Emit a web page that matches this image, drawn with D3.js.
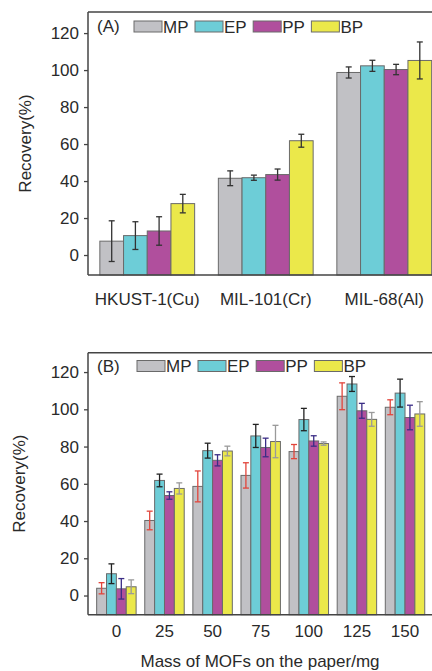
<!DOCTYPE html>
<html>
<head>
<meta charset="utf-8">
<script src="https://cdn.jsdelivr.net/npm/d3@7"></script>
<style>
  body { margin: 0; background: #fff; }
  svg { display: block; font-family: "Liberation Sans", Arial, sans-serif; }
</style>
</head>
<body>
<svg width="432" height="671"></svg>
<script>
// series shared by both panels
var series = ["MP", "EP", "PP", "BP"];
var fills = ["#c1c1c5", "#6dcdd7", "#b04f9d", "#ebe84a"];

// panel A : MOF type
var mofs = ["HKUST-1(Cu)", "MIL-101(Cr)", "MIL-68(Al)"];
var recA = [
  [7.5, 10.5, 13, 27.8],
  [41.5, 41.8, 43.5, 61.8],
  [98.7, 102.3, 100.3, 105.2]
];
var errA = [
  [11, 7.5, 7.7, 5],
  [4, 1.4, 3, 3.5],
  [3, 3, 2.8, 10]
];

// panel B : mass of MOFs
var masses = ["0", "25", "50", "75", "100", "125", "150"];
var recB = [
  [3.9, 11.7, 3.6, 4.7],
  [40.3, 61.8, 53.7, 57.5],
  [58.6, 77.8, 72.6, 77.6],
  [64.5, 85.7, 79.5, 82.7],
  [77.3, 94.5, 83, 81.6],
  [107, 113.6, 99.2, 94.6],
  [101.1, 108.7, 95.6, 97.5]
];
var errB = [
  [3, 5.3, 5.5, 3.7],
  [5, 3.4, 2, 3],
  [8.3, 4, 3, 2.6],
  [6.8, 6.2, 5, 8.7],
  [3.8, 6, 2.8, 0.9],
  [7.2, 4, 4, 3.7],
  [4, 7.5, 6.6, 6.6]
];
var yTicks = [0, 20, 40, 60, 80, 100, 120];

var svg = d3.select("svg");
var ink = "#2a2a2a";

function panel(o) {
  var x = d3.scaleBand().domain(o.cats).range([88, o.right])
    .paddingInner(o.pad).paddingOuter(o.padOut);
  var xs = d3.scaleBand().domain(series).range([0, x.bandwidth()]);
  var y = d3.scaleLinear().domain(o.ydom).range([o.bottom, o.top]);
  var color = d3.scaleOrdinal().domain(series).range(fills);

  var g = svg.append("g");

  var rows = [];
  o.cats.forEach(function (c, i) {
    series.forEach(function (s, j) {
      rows.push({ cat: c, s: s, v: o.vals[i][j], e: o.errs[i][j], j: j });
    });
  });

  g.selectAll(".bar").data(rows).enter().append("rect")
    .attr("x", function (d) { return x(d.cat) + xs(d.s); })
    .attr("y", function (d) { return y(d.v); })
    .attr("width", xs.bandwidth())
    .attr("height", function (d) { return o.bottom - y(d.v); })
    .attr("fill", function (d) { return color(d.s); })
    .attr("stroke", "#6a6a6a").attr("stroke-width", 1);

  var eb = g.selectAll(".err").data(rows).enter().append("g")
    .attr("stroke", function (d) { return o.errColors[d.j]; })
    .attr("stroke-width", 1.3)
    .attr("transform", function (d) {
      return "translate(" + (x(d.cat) + xs(d.s) + xs.bandwidth() / 2) + ",0)";
    });
  eb.append("line").attr("x1", 0).attr("x2", 0)
    .attr("y1", function (d) { return y(d.v + d.e); })
    .attr("y2", function (d) { return y(d.v - d.e); });
  eb.append("line").attr("x1", -o.cap).attr("x2", o.cap)
    .attr("y1", function (d) { return y(d.v + d.e); })
    .attr("y2", function (d) { return y(d.v + d.e); });
  eb.append("line").attr("x1", -o.cap).attr("x2", o.cap)
    .attr("y1", function (d) { return y(d.v - d.e); })
    .attr("y2", function (d) { return y(d.v - d.e); });

  // frame: top line
  g.append("line").attr("x1", 88).attr("x2", 432)
    .attr("y1", o.top).attr("y2", o.top)
    .attr("stroke", "#444").attr("stroke-width", 1.5);

  var ya = g.append("g").attr("transform", "translate(88,0)")
    .call(d3.axisLeft(y).tickValues(yTicks).tickSize(4).tickPadding(5));
  var xa = g.append("g").attr("transform", "translate(0," + o.bottom + ")")
    .call(d3.axisBottom(x).tickSize(0).tickPadding(o.xPad));
  [ya, xa].forEach(function (a) {
    a.select(".domain").attr("stroke", "#444").attr("stroke-width", 1.5);
    a.selectAll(".tick line").attr("stroke", "#444").attr("stroke-width", 1.3);
    a.selectAll("text").attr("font-size", 17).attr("fill", ink)
      .attr("font-family", "Liberation Sans, Arial, sans-serif");
  });
  ya.select(".domain").attr("d", "M0," + o.top + "V" + o.bottom);
  xa.select(".domain").attr("d", "M88,0H432");

  g.append("text")
    .attr("transform", "translate(" + o.ytx + "," + ((o.top + o.bottom) / 2) + ") rotate(-90)")
    .attr("text-anchor", "middle").attr("dy", "0.35em")
    .attr("font-size", 17).attr("fill", ink)
    .text("Recovery(%)");

  // panel letter and legend
  g.append("text").attr("x", 97).attr("y", o.legY + 11)
    .attr("font-size", 17).attr("fill", ink).text(o.letter);
  var lx = o.legX;
  series.forEach(function (s) {
    g.append("rect").attr("x", lx).attr("y", o.legY).attr("width", 28).attr("height", 11)
      .attr("fill", color(s)).attr("stroke", "#6a6a6a").attr("stroke-width", 1);
    var t = g.append("text").attr("x", lx + 29).attr("y", o.legY + 11.5)
      .attr("font-size", 17).attr("fill", ink).text(s);
    lx += 29 + t.node().getComputedTextLength() + 6.5;
  });
  return g;
}

panel({
  cats: mofs, vals: recA, errs: errA, letter: "(A)",
  right: 443.5, pad: 0.2, padOut: 0.1,
  ydom: [-10.8, 131.4], top: 12, bottom: 275,
  cap: 3, xPad: 18, ytx: 25, legX: 134, legY: 21,
  errColors: ["#333", "#333", "#333", "#333"]
});

var gb = panel({
  cats: masses, vals: recB, errs: errB, letter: "(B)",
  right: 433.4, pad: 0.18, padOut: 0.18,
  ydom: [-10.3, 130.4], top: 352.7, bottom: 614.7,
  cap: 3, xPad: 10, ytx: 19, legX: 137, legY: 360.5,
  errColors: ["#e2453b", "#222", "#3b2d86", "#9a9a9a"]
});

gb.append("text").attr("x", 260).attr("y", 667)
  .attr("text-anchor", "middle").attr("font-size", 17).attr("fill", ink)
  .text("Mass of MOFs on the paper/mg");
</script>
</body>
</html>
